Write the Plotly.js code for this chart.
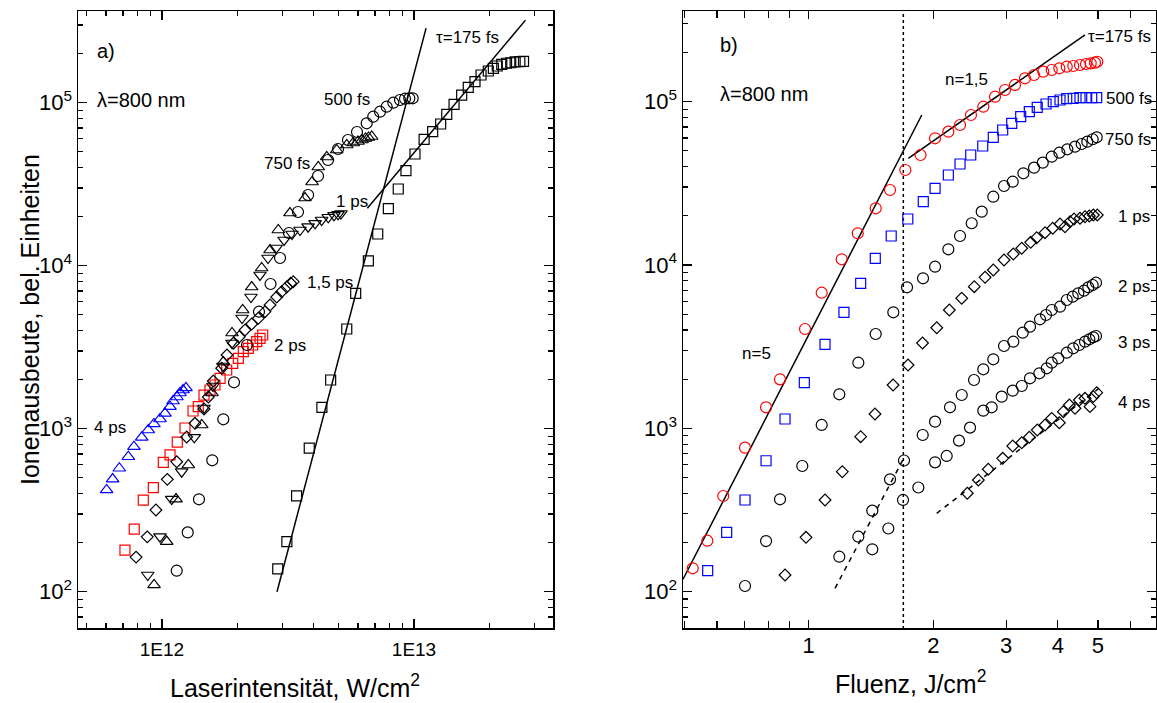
<!DOCTYPE html>
<html>
<head>
<meta charset="utf-8">
<script src="https://cdn.plot.ly/plotly-3.0.1.min.js"></script>
<style>html,body{margin:0;padding:0;background:#fff;}#chart{width:1157px;height:703px;}</style>
</head>
<body>
<div id="chart"></div>
<script>
// ---------- Panel a) : ion yield vs laser intensity (W/cm^2) ----------
const a_175fs_x = [2.88e12, 3.13e12, 3.42e12, 3.84e12, 4.31e12, 4.67e12, 5.41e12, 5.87e12, 6.59e12, 7.18e12, 7.91e12, 8.66e12, 9.29e12, 1.009e13, 1.097e13, 1.186e13, 1.276e13, 1.349e13, 1.442e13, 1.546e13, 1.642e13, 1.746e13, 1.845e13, 1.972e13, 2.065e13, 2.14e13, 2.23e13, 2.33e13, 2.42e13, 2.52e13, 2.63e13, 2.72e13];
const a_175fs_y = [138, 203, 387, 759, 1353, 1990, 4090, 6770, 10700, 15650, 22400, 29550, 38260, 48450, 59640, 66400, 74000, 84900, 97800, 111400, 124300, 134600, 147900, 156500, 162600, 168000, 172000, 174600, 175800, 177800, 178500, 179500];

const a_500fs_x = [1.144e12, 1.265e12, 1.402e12, 1.583e12, 1.751e12, 1.931e12, 2.175e12, 2.426e12, 2.696e12, 2.94e12, 3.19e12, 3.465e12, 3.80e12, 4.16e12, 4.56e12, 4.995e12, 5.47e12, 5.94e12, 6.49e12, 6.89e12, 7.33e12, 7.79e12, 8.28e12, 8.80e12, 9.21e12, 9.58e12, 9.88e12];
const a_500fs_y = [134.5, 231, 369, 640, 1142, 1926, 3263, 5222, 7722, 11150, 15870, 21350, 27150, 35500, 44500, 52000, 59050, 66100, 74750, 82060, 88050, 94500, 100000, 103900, 105800, 106400, 106400];

const a_750fs_x = [9.30e11, 1.044e12, 1.137e12, 1.272e12, 1.438e12, 1.579e12, 1.751e12, 1.896e12, 2.09e12, 2.27e12, 2.486e12, 2.683e12, 2.894e12, 3.22e12, 3.694e12, 3.94e12, 4.17e12, 4.505e12, 4.935e12, 5.41e12, 5.74e12, 5.995e12, 6.22e12, 6.42e12, 6.60e12, 6.795e12];
const a_750fs_y = [110, 203, 370, 599, 1054, 1656, 2566, 3865, 5349, 7401, 9680, 12480, 16560, 21050, 26020, 32630, 40320, 46450, 51270, 55020, 56600, 57810, 59050, 60320, 61170, 62040];

const a_1ps_x = [8.78e11, 9.82e11, 1.093e12, 1.197e12, 1.343e12, 1.468e12, 1.594e12, 1.746e12, 1.896e12, 2.078e12, 2.255e12, 2.448e12, 2.634e12, 2.835e12, 3.05e12, 3.28e12, 3.53e12, 3.80e12, 4.05e12, 4.30e12, 4.57e12, 4.815e12, 4.995e12, 5.13e12];
const a_1ps_y = [126.6, 217.5, 370, 545, 885, 1340, 1828, 2425, 3356, 4777, 6427, 8770, 11150, 12840, 14380, 15650, 16560, 17350, 18200, 19070, 19820, 20380, 20670, 20900];

const a_15ps_x = [7.89e11, 8.74e11, 9.46e11, 1.05e12, 1.144e12, 1.253e12, 1.352e12, 1.468e12, 1.527e12, 1.598e12, 1.725e12, 1.811e12, 1.919e12, 2.026e12, 2.135e12, 2.27e12, 2.41e12, 2.563e12, 2.683e12, 2.853e12, 2.985e12, 3.125e12, 3.242e12, 3.319e12];
const a_15ps_y = [163, 217, 317, 489, 627, 889, 1079, 1321, 1565, 1962, 2348, 2831, 3342, 3667, 4032, 4389, 4757, 5222, 5741, 6427, 6926, 7401, 7800, 7977];

const a_2ps_x = [7.13e11, 7.76e11, 8.43e11, 9.24e11, 1.012e12, 1.076e12, 1.15e12, 1.234e12, 1.328e12, 1.393e12, 1.468e12, 1.55e12, 1.623e12, 1.70e12, 1.806e12, 1.909e12, 2.009e12, 2.102e12, 2.20e12, 2.29e12, 2.376e12, 2.449e12, 2.51e12];
const a_2ps_y = [180, 242, 365, 435, 622, 690, 828, 1010, 1284, 1365, 1609, 1728, 1854, 2037, 2291, 2518, 2704, 2968, 3113, 3263, 3418, 3585, 3758];

const a_4ps_x = [6.03e11, 6.37e11, 6.77e11, 7.35e11, 7.74e11, 8.31e11, 8.82e11, 9.29e11, 9.82e11, 1.028e12, 1.076e12, 1.106e12, 1.147e12, 1.179e12, 1.212e12, 1.245e12];
const a_4ps_y = [421, 491, 572, 673, 776, 885, 982, 1070, 1147, 1243, 1365, 1479, 1565, 1656, 1727, 1778];

// fit lines (175 fs)
const a_fitSteep_x = [2.86e12, 1.117e13];
const a_fitSteep_y = [100, 2.87e5];
const a_fitFlat_x = [6.53e12, 2.77e13];
const a_fitFlat_y = [22500, 3.21e5];

// ---------- Panel b) : ion yield vs fluence (J/cm^2) ----------
const b_175fs_x = [0.5244, 0.5689, 0.6217, 0.7016, 0.7887, 0.8524, 0.9797, 1.075, 1.2015, 1.3137, 1.4518, 1.5723, 1.712, 1.863, 2.02, 2.175, 2.321, 2.467, 2.642, 2.82, 2.981, 3.151, 3.332, 3.504, 3.689, 3.866, 4.034, 4.203, 4.359, 4.525, 4.679, 4.803, 4.919, 4.982];
const b_175fs_y = [138.9, 205, 385, 761, 1345, 1995, 4057, 6767, 10836, 15640, 22250, 28800, 38180, 47170, 59700, 65520, 72000, 82900, 93200, 107300, 117900, 126600, 139100, 145700, 152700, 156400, 160200, 163800, 165400, 167800, 170100, 171800, 173300, 175700];

const b_500fs_x = [0.570, 0.6335, 0.7016, 0.7887, 0.8765, 0.9759, 1.095, 1.2167, 1.3354, 1.4485, 1.5826, 1.7358, 1.892, 2.02, 2.175, 2.321, 2.4636, 2.634, 2.793, 2.943, 3.095, 3.253, 3.413, 3.567, 3.746, 3.90, 4.049, 4.203, 4.359, 4.525, 4.679, 4.83, 4.966];
const b_500fs_y = [134.3, 230.8, 363.9, 633, 1140, 1902, 3269, 5134, 7727, 10990, 15050, 19130, 24410, 29490, 35570, 41540, 47170, 53560, 60530, 67100, 73760, 80930, 86860, 92400, 96800, 100000, 102400, 104300, 104900, 105800, 105800, 105800, 105800];

const b_750fs_x = [0.7016, 0.7887, 0.8524, 0.9649, 1.075, 1.1856, 1.318, 1.4518, 1.6012, 1.728, 1.889, 2.02, 2.175, 2.321, 2.477, 2.619, 2.793, 2.965, 3.112, 3.302, 3.504, 3.678, 3.866, 4.034, 4.217, 4.401, 4.567, 4.713, 4.856, 4.966];
const b_750fs_y = [108.2, 204, 367.5, 587.8, 1048, 1615, 2522, 3780, 5134, 7303, 8290, 9762, 12480, 15050, 18010, 21210, 26200, 30470, 32370, 36440, 39440, 42320, 46050, 48720, 51100, 53020, 55080, 56910, 58870, 60530];

const b_1ps_x = [0.8765, 0.985, 1.095, 1.2057, 1.3354, 1.446, 1.599, 1.738, 1.884, 2.039, 2.187, 2.343, 2.513, 2.668, 2.793, 2.965, 3.122, 3.272, 3.439, 3.556, 3.725, 3.888, 4.049, 4.163, 4.281, 4.377, 4.525, 4.653, 4.766, 4.873, 4.982];
const b_1ps_y = [126.4, 215, 363.9, 542.3, 888.4, 1223, 1841, 2441, 3330, 4130, 5303, 6254, 7365, 8408, 9320, 10730, 11680, 12660, 13770, 14700, 15770, 16780, 17830, 17160, 18420, 19130, 19320, 19760, 19960, 20240, 20240];

const b_2ps_x = [1.1856, 1.318, 1.4245, 1.5723, 1.6994, 1.886, 2.02, 2.195, 2.343, 2.509, 2.642, 2.793, 2.965, 3.122, 3.29, 3.426, 3.622, 3.746, 3.866, 4.049, 4.203, 4.345, 4.482, 4.627, 4.739, 4.856, 4.947];
const b_2ps_y = [163.6, 216.9, 313, 487, 635, 910, 1098, 1345, 1599, 1976, 2298, 2646, 3192, 3391, 3850, 4191, 4651, 4941, 5302, 5555, 6106, 6396, 6709, 6960, 7303, 7543, 7792];

const b_3ps_x = [1.4245, 1.5575, 1.69, 1.8405, 2.02, 2.155, 2.308, 2.454, 2.642, 2.768, 2.927, 3.112, 3.272, 3.426, 3.609, 3.761, 3.866, 4.01, 4.203, 4.359, 4.508, 4.653, 4.766, 4.873, 4.947];
const b_3ps_y = [181.6, 243.5, 364, 434, 619, 677, 840, 1009, 1282, 1345, 1562, 1700, 1816, 2024, 2172, 2331, 2522, 2684, 2904, 3090, 3237, 3391, 3508, 3608, 3674];

const b_4ps_x = [2.417, 2.57, 2.716, 2.943, 3.112, 3.272, 3.413, 3.567, 3.725, 3.866, 4.034, 4.125, 4.265, 4.401, 4.508, 4.653, 4.784, 4.873, 4.966];
const b_4ps_y = [400, 482.5, 561, 655, 779, 816, 881, 976, 1048, 1151, 1082, 1264, 1389, 1326, 1490, 1526, 1357, 1562, 1652];

// fit lines
const b_fitN5_x = [0.4969, 1.876];
const b_fitN5_y = [119, 82900];
const b_fitN15_x = [1.741, 4.653];
const b_fitN15_y = [45020, 256200];
const b_dash1_x = [1.158, 1.693];
const b_dash1_y = [104.8, 648.6];
const b_dash2_x = [2.039, 5.152];
const b_dash2_y = [301.7, 1841];
const b_threshold = 1.693;   // dotted vertical line (fluence)

// ---------- ticks ----------
const yTickVals = [100, 1000, 10000, 100000];
const yTickText = ['10<sup>2</sup>', '10<sup>3</sup>', '10<sup>4</sup>', '10<sup>5</sup>'];
const yMinorVals = [60, 70, 80, 90, 200, 300, 400, 500, 600, 700, 800, 900, 2000, 3000, 4000, 5000, 6000, 7000, 8000, 9000, 20000, 30000, 40000, 50000, 60000, 70000, 80000, 90000, 200000, 300000];
const aXTickVals = [1e12, 1e13];
const aXTickText = ['1E12', '1E13'];
const aXMinorVals = [5e11, 6e11, 7e11, 8e11, 9e11, 2e12, 3e12, 4e12, 5e12, 6e12, 7e12, 8e12, 9e12, 2e13, 3e13];
const bXTickVals = [1, 2, 3, 4, 5];
const bXTickText = ['1', '2', '3', '4', '5'];
const bXMinorVals = [0.5, 0.6, 0.7, 0.8, 0.9, 6];

const FONT = 'Liberation Sans, Arial, Helvetica, sans-serif';
const RED = '#ff0000', BLUE = '#0000ff', BLACK = '#000000';

function pts(x, y, xa, ya, symbol, color, size) {
  return {x: x, y: y, xaxis: xa, yaxis: ya, type: 'scatter', mode: 'markers', showlegend: false,
    marker: {symbol: symbol, size: size, color: color, line: {color: color, width: 1.2}}};
}
function line(x, y, xa, ya, dash) {
  return {x: x, y: y, xaxis: xa, yaxis: ya, type: 'scatter', mode: 'lines', showlegend: false,
    line: {color: BLACK, width: 1.5, dash: dash || 'solid'}};
}

const traces = [
  line(a_fitSteep_x, a_fitSteep_y, 'x', 'y'),
  line(a_fitFlat_x, a_fitFlat_y, 'x', 'y'),
  pts(a_4ps_x, a_4ps_y, 'x', 'y', 'triangle-up-open', BLUE, 11),
  pts(a_2ps_x, a_2ps_y, 'x', 'y', 'square-open', RED, 10),
  pts(a_15ps_x, a_15ps_y, 'x', 'y', 'diamond-open', BLACK, 9),
  pts(a_1ps_x, a_1ps_y, 'x', 'y', 'triangle-down-open', BLACK, 11),
  pts(a_750fs_x, a_750fs_y, 'x', 'y', 'triangle-up-open', BLACK, 11),
  pts(a_500fs_x, a_500fs_y, 'x', 'y', 'circle-open', BLACK, 11),
  pts(a_175fs_x, a_175fs_y, 'x', 'y', 'square-open', BLACK, 10),

  line([b_threshold, b_threshold], [30, 1e6], 'x2', 'y2', 'dot'),
  line(b_fitN5_x, b_fitN5_y, 'x2', 'y2'),
  line(b_fitN15_x, b_fitN15_y, 'x2', 'y2'),
  line(b_dash1_x, b_dash1_y, 'x2', 'y2', '5px,5px'),
  line(b_dash2_x, b_dash2_y, 'x2', 'y2', '5px,5px'),
  pts(b_175fs_x, b_175fs_y, 'x2', 'y2', 'circle-open', RED, 11),
  pts(b_500fs_x, b_500fs_y, 'x2', 'y2', 'square-open', BLUE, 10),
  pts(b_750fs_x, b_750fs_y, 'x2', 'y2', 'circle-open', BLACK, 11),
  pts(b_1ps_x, b_1ps_y, 'x2', 'y2', 'diamond-open', BLACK, 9),
  pts(b_2ps_x, b_2ps_y, 'x2', 'y2', 'circle-open', BLACK, 11),
  pts(b_3ps_x, b_3ps_y, 'x2', 'y2', 'circle-open', BLACK, 11),
  pts(b_4ps_x, b_4ps_y, 'x2', 'y2', 'diamond-open', BLACK, 9)
];

function axisBase() {
  return {type: 'log', showgrid: false, zeroline: false, showline: true, linecolor: BLACK, linewidth: 1.5,
    mirror: 'allticks', ticks: 'inside', tickcolor: BLACK, tickwidth: 1.2, fixedrange: true};
}

const xa = Object.assign(axisBase(), {
  domain: [78/1157, 553/1157], range: [11.6667, 13.5516], anchor: 'y',
  tickmode: 'array', tickvals: aXTickVals, ticktext: aXTickText, ticklen: 9,
  tickfont: {family: FONT, size: 19, color: BLACK}, ticklabelstandoff: 4,
  minor: {tickmode: 'array', tickvals: aXMinorVals, ticks: 'inside', ticklen: 5, tickcolor: BLACK, tickwidth: 1.2}
});
const ya = Object.assign(axisBase(), {
  domain: [1 - 628/703, 1 - 11/703], range: [1.7773, 5.5626], anchor: 'x',
  tickmode: 'array', tickvals: yTickVals, ticktext: yTickText, ticklen: 9,
  tickfont: {family: FONT, size: 22, color: BLACK},
  minor: {tickmode: 'array', tickvals: yMinorVals, ticks: 'inside', ticklen: 5, tickcolor: BLACK, tickwidth: 1.2}
});
const xb = Object.assign(axisBase(), {
  domain: [683/1157, 1156/1157], range: [-0.3038, 0.8393], anchor: 'y2',
  tickmode: 'array', tickvals: bXTickVals, ticktext: bXTickText, ticklen: 8,
  tickfont: {family: FONT, size: 22, color: BLACK}, ticklabelstandoff: -3,
  minor: {tickmode: 'array', tickvals: bXMinorVals, ticks: 'inside', ticklen: 7, tickcolor: BLACK, tickwidth: 1.2}
});
const yb = Object.assign(axisBase(), {
  domain: [1 - 628/703, 1 - 11/703], range: [1.7771, 5.5554], anchor: 'x2',
  tickmode: 'array', tickvals: yTickVals, ticktext: yTickText, ticklen: 9,
  tickfont: {family: FONT, size: 22, color: BLACK},
  minor: {tickmode: 'array', tickvals: yMinorVals, ticks: 'inside', ticklen: 5, tickcolor: BLACK, tickwidth: 1.2}
});

function ann(text, x, y, xr, yr, size, anchor) {
  return {text: text, x: x, y: y, xref: xr, yref: yr, showarrow: false,
    xanchor: anchor || 'center', yanchor: 'middle', font: {family: FONT, size: size, color: BLACK}};
}

const annotations = [
  // panel a (positions in log10 units on log axes)
  ann('a)', 11.734, 5.317, 'x', 'y', 20, 'left'),
  ann('λ=800 nm', 11.734, 5.017, 'x', 'y', 20, 'left'),
  ann('500 fs', 12.733, 5.017, 'x', 'y', 17),
  ann('750 fs', 12.495, 4.630, 'x', 'y', 17),
  ann('1 ps', 12.754, 4.391, 'x', 'y', 17),
  ann('τ=175 fs', 13.212, 5.397, 'x', 'y', 17),
  ann('1,5 ps', 12.667, 3.894, 'x', 'y', 17),
  ann('2 ps', 12.506, 3.5135, 'x', 'y', 17),
  ann('4 ps', 11.794, 3.010, 'x', 'y', 17),
  // panel b
  ann('b)', -0.2192, 5.347, 'x2', 'y2', 20, 'left'),
  ann('λ=800 nm', -0.2192, 5.045, 'x2', 'y2', 20, 'left'),
  ann('n=1,5', 0.3813, 5.133, 'x2', 'y2', 17),
  ann('τ=175 fs', 0.7511, 5.402, 'x2', 'y2', 17),
  ann('500 fs', 0.7729, 5.021, 'x2', 'y2', 17),
  ann('750 fs', 0.7716, 4.7655, 'x2', 'y2', 17),
  ann('1 ps', 0.7861, 4.296, 'x2', 'y2', 17),
  ann('2 ps', 0.7873, 3.871, 'x2', 'y2', 17),
  ann('3 ps', 0.7873, 3.524, 'x2', 'y2', 17),
  ann('4 ps', 0.7873, 3.157, 'x2', 'y2', 17),
  ann('n=5', -0.125, 3.459, 'x2', 'y2', 17),
  // axis titles
  {text: 'Ionenausbeute, bel. Einheiten', x: 30/1157, y: 1 - 320/703, xref: 'paper', yref: 'paper',
   showarrow: false, textangle: -90, xanchor: 'center', yanchor: 'middle',
   font: {family: FONT, size: 25, color: BLACK}},
  {text: 'Laserintensität, W/cm<sup>2</sup>', x: 168/1157, y: 1 - 686/703, xref: 'paper', yref: 'paper',
   showarrow: false, xanchor: 'left', yanchor: 'middle',
   font: {family: FONT, size: 25, color: BLACK}},
  {text: 'Fluenz, J/cm<sup>2</sup>', x: 833/1157, y: 1 - 682/703, xref: 'paper', yref: 'paper',
   showarrow: false, xanchor: 'left', yanchor: 'middle',
   font: {family: FONT, size: 25, color: BLACK}}
];

const layout = {
  width: 1157, height: 703, autosize: false,
  margin: {l: 0, r: 0, t: 0, b: 0},
  paper_bgcolor: '#ffffff', plot_bgcolor: '#ffffff',
  showlegend: false,
  font: {family: FONT, color: BLACK},
  xaxis: xa, yaxis: ya, xaxis2: xb, yaxis2: yb,
  annotations: annotations
};

Plotly.newPlot('chart', traces, layout, {displayModeBar: false, staticPlot: true});
</script>
</body>
</html>
